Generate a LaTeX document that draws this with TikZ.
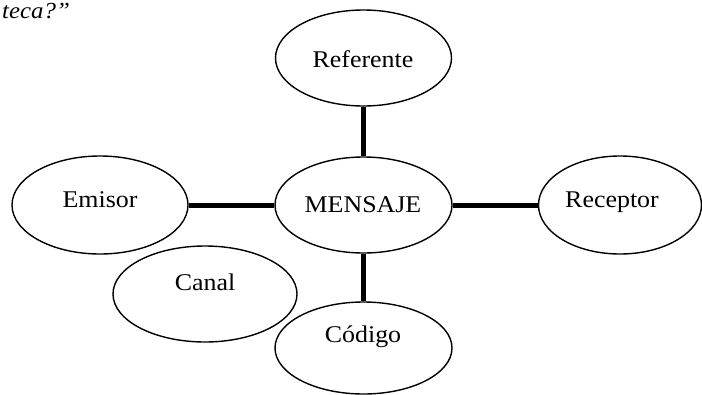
\documentclass[tikz,border=0pt]{standalone}
\usepackage{fontspec}
\setmainfont{Liberation Serif}
\usetikzlibrary{shapes.geometric}
\begin{document}
\begin{tikzpicture}[x=1pt,y=-1pt,
  bubble/.style={draw, line width=1.4pt, ellipse, inner sep=0pt},
  lbl/.style={font=\fontsize{24}{28}\selectfont, inner sep=0pt, anchor=base, xscale=1.08},
  link/.style={line width=5pt}]
\useasboundingbox (0,0) rectangle (702,394);
% ellipses
\node[bubble, minimum width=176pt, minimum height=96pt] (ref) at (363.5,58) {};
\node[bubble, minimum width=177pt, minimum height=96pt] (men) at (363.5,205) {};
\node[bubble, minimum width=177pt, minimum height=92pt] (cod) at (363.5,348) {};
\node[bubble, minimum width=176pt, minimum height=98pt] (emi) at (100,205) {};
\node[bubble, minimum width=184pt, minimum height=96pt] (can) at (205,294) {};
\node[bubble, minimum width=163pt, minimum height=98pt] (rec) at (620,205) {};
% labels
\node[lbl] (tref) at (363,67) {Referente};
\node[lbl] (tmen) at (363,212) {MENSAJE};
\node[lbl] (tcod) at (363,342) {Código};
\node[lbl] (temi) at (100,207) {Emisor};
\node[lbl] (tcan) at (205,290) {Canal};
\node[lbl] (trec) at (612,207) {Receptor};
% top-left fragment
\node[font=\fontsize{23}{27}\selectfont\itshape, inner sep=0pt, anchor=base west, xscale=1.08] (frag) at (2,18) {teca?”};
% connectors
\draw[link] (ref) -- (men);
\draw[link] (men) -- (cod);
\draw[link] (emi) -- (men);
\draw[link] (men) -- (rec);
\end{tikzpicture}
\end{document}
